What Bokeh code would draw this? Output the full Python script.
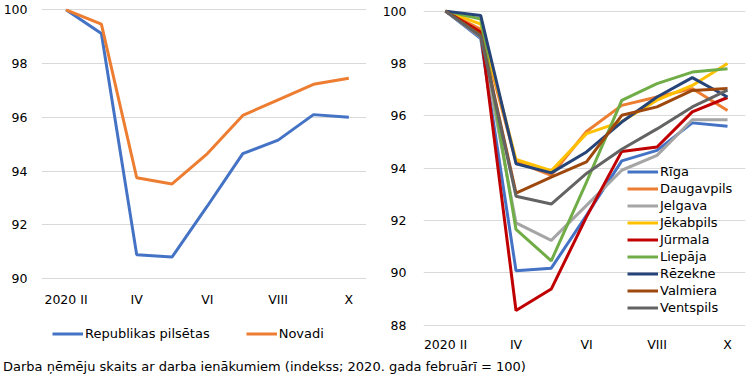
from bokeh.plotting import figure
from bokeh.models import (ColumnDataSource, FixedTicker, Legend, LegendItem, Range1d, Div)
from bokeh.layouts import row, column
from bokeh.embed import file_html
from bokeh.resources import INLINE

# ---------------- data ----------------
months = ["2020 II", "III", "IV", "V", "VI", "VII", "VIII", "IX", "X"]
tick_months = ["2020 II", "IV", "VI", "VIII", "X"]

left_names = ["Republikas pilsētas", "Novadi"]
republikas = [100, 99.12, 90.88, 90.8, 92.7, 94.65, 95.15, 96.1, 96.0]
novadi = [100, 99.47, 93.75, 93.52, 94.65, 96.07, 96.65, 97.23, 97.45]

right_names = ["Rīga", "Daugavpils", "Jelgava", "Jēkabpils", "Jūrmala",
               "Liepāja", "Rēzekne", "Valmiera", "Ventspils"]
riga = [100, 98.95, 90.08, 90.18, 92.2, 94.28, 94.68, 95.73, 95.6]
daugavpils = [100, 99.3, 94.25, 93.73, 95.4, 96.4, 96.72, 97.04, 96.2]
jelgava = [100, 99.0, 91.91, 91.24, 92.58, 93.92, 94.49, 95.85, 95.85]
jekabpils = [100, 99.5, 94.33, 93.9, 95.32, 95.78, 96.6, 97.16, 98.0]
jurmala = [100, 99.2, 88.56, 89.38, 92.14, 94.64, 94.81, 96.15, 96.7]
liepaja = [100, 99.7, 91.66, 90.46, 93.47, 96.59, 97.23, 97.67, 97.8]
rezekne = [100, 99.83, 94.17, 93.82, 94.62, 95.76, 96.72, 97.46, 96.72]
valmiera = [100, 99.1, 93.05, 93.66, 94.24, 96.02, 96.34, 96.97, 97.04]
ventspils = [100, 99.03, 92.93, 92.63, 93.8, 94.72, 95.5, 96.34, 96.98]
right_series = [riga, daugavpils, jelgava, jekabpils, jurmala,
                liepaja, rezekne, valmiera, ventspils]

left_colors = ["#4472C4", "#ED7D31"]
right_colors = ["#4472C4", "#ED7D31", "#A5A5A5", "#FFC000", "#C00000",
                "#70AD47", "#264478", "#9E480E", "#636363"]

caption = "Darba ņēmēju skaits ar darba ienākumiem (indekss; 2020. gada februārī = 100)"

FONT = "DejaVu Sans"
xs = list(range(len(months)))
tick_idx = [months.index(m) for m in tick_months]


def style(p, ymin, ymax, ystandoff, xstandoff):
    p.xgrid.visible = False
    p.ygrid.grid_line_color = "#D9D9D9"
    p.ygrid.grid_line_width = 1
    p.outline_line_color = None
    p.border_fill_color = None
    for ax in (p.xaxis[0], p.yaxis[0]):
        ax.axis_line_color = None
        ax.major_tick_line_color = None
        ax.minor_tick_line_color = None
        ax.major_label_text_font = FONT
        ax.major_label_text_font_size = "12.5px"
        ax.major_label_text_color = "#000000"
    p.yaxis[0].ticker = FixedTicker(ticks=list(range(ymin, ymax + 1, 2)))
    p.yaxis[0].major_label_standoff = ystandoff
    p.xaxis[0].ticker = FixedTicker(ticks=tick_idx)
    p.xaxis[0].major_label_overrides = {i: months[i] for i in tick_idx}
    p.xaxis[0].major_label_standoff = xstandoff
    p.xaxis[0].fixed_location = ymin


FIG_H = 380
TOP = 8
BOTTOM = 28

# ---------------- left chart ----------------
p1 = figure(width=375, height=FIG_H, output_backend="svg", toolbar_location=None,
            x_range=Range1d(-0.694, 8.5), y_range=Range1d(87.246, 100.05),
            min_border_left=35, min_border_right=9, min_border_top=TOP,
            min_border_bottom=BOTTOM)
style(p1, 90, 100, 8, 7)
items1 = []
for name, vals, col in zip(left_names, [republikas, novadi], left_colors):
    src = ColumnDataSource(dict(x=xs, y=vals))
    r = p1.line("x", "y", source=src, line_color=col, line_width=3)
    items1.append(LegendItem(label=name, renderers=[r]))
leg1 = Legend(items=items1, orientation="horizontal", location=(11, 10),
              padding=0, margin=0, spacing=36, glyph_width=31, glyph_height=17,
              label_height=17, label_standoff=2, background_fill_alpha=0,
              border_line_alpha=0, label_text_font=FONT,
              label_text_font_size="13px", label_text_color="#000000")
p1.add_layout(leg1, "center")

# ---------------- right chart ----------------
p2 = figure(width=375, height=FIG_H, output_backend="svg", toolbar_location=None,
            x_range=Range1d(-0.624, 8.51), y_range=Range1d(86.957, 100.10),
            min_border_left=48, min_border_right=5, min_border_top=TOP,
            min_border_bottom=BOTTOM)
style(p2, 88, 100, 11, 6)
items2 = []
for name, vals, col in zip(right_names, right_series, right_colors):
    src = ColumnDataSource(dict(x=xs, y=vals))
    r = p2.line("x", "y", source=src, line_color=col, line_width=3)
    items2.append(LegendItem(label=name, renderers=[r]))
leg2 = Legend(items=items2, orientation="vertical", location=(204, 36),
              padding=0, margin=0, spacing=0, glyph_width=31, glyph_height=17,
              label_height=17, label_standoff=2, background_fill_alpha=0,
              border_line_alpha=0, label_text_font=FONT,
              label_text_font_size="13px", label_text_color="#000000")
p2.add_layout(leg2, "center")

cap = Div(text=caption, margin=(-19, 0, 0, 0),
          styles={"font-family": FONT, "font-size": "13px", "color": "#000000",
                  "line-height": "12px", "white-space": "nowrap",
                  "padding-left": "3px"})

layout = column(row(p1, p2, spacing=0), cap, spacing=0)

open("out.html", "w").write(file_html(layout, INLINE))
